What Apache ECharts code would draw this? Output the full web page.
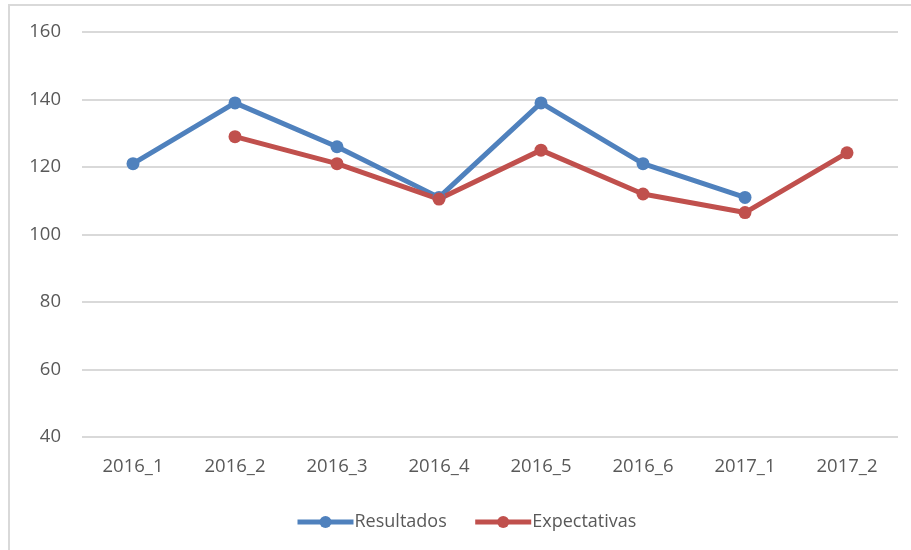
<!DOCTYPE html>
<html>
<head>
<meta charset="utf-8">
<script src="https://cdn.jsdelivr.net/npm/echarts@6/dist/echarts.min.js"></script>
<style>
html,body{margin:0;padding:0;background:#fff;}
#chart{width:911px;height:550px;}
</style>
</head>
<body>
<div id="chart"></div>
<script>
const categories = ['2016_1','2016_2','2016_3','2016_4','2016_5','2016_6','2017_1','2017_2'];
const resultados = [121, 139, 126, 111, 139, 121, 111, null];
const expectativas = [null, 129, 121, 110.5, 125, 112, 106.5, 124.2];
const yTicks = {min: 40, max: 160, interval: 20};

const FONT = 'Open Sans';
const chart = echarts.init(document.getElementById('chart'));
chart.setOption({
  animation: false,
  backgroundColor: '#fff',
  textStyle: {fontFamily: FONT},
  graphic: [
    {type: 'line', shape: {x1: 8, y1: 5, x2: 911, y2: 5}, style: {stroke: '#d9d9d9', lineWidth: 2}},
    {type: 'line', shape: {x1: 9, y1: 4, x2: 9, y2: 550}, style: {stroke: '#d9d9d9', lineWidth: 2}}
  ],
  grid: {left: 82, right: 13, top: 32, bottom: 113},
  legend: {
    left: 290, top: 508,
    itemWidth: 56, itemHeight: 15, itemGap: 26,
    lineStyle: {width: 5},
    textStyle: {fontFamily: FONT, fontSize: 18, color: '#595959', padding: [0,0,0,-4]},
    data: ['Resultados', 'Expectativas']
  },
  xAxis: {
    type: 'category',
    data: categories,
    boundaryGap: true,
    axisLine: {show: false},
    axisTick: {show: false},
    axisLabel: {fontFamily: FONT, fontSize: 18.5, color: '#595959', margin: 20}
  },
  yAxis: {
    type: 'value',
    min: yTicks.min, max: yTicks.max, interval: yTicks.interval,
    axisLine: {show: false},
    axisTick: {show: false},
    axisLabel: {fontFamily: FONT, fontSize: 18.5, color: '#595959', margin: 21},
    splitLine: {lineStyle: {color: '#d9d9d9', width: 2}}
  },
  series: [
    {
      name: 'Resultados', type: 'line', data: resultados,
      symbol: 'circle', symbolSize: 13, connectNulls: false,
      lineStyle: {color: '#4f81bd', width: 5},
      itemStyle: {color: '#4f81bd'}
    },
    {
      name: 'Expectativas', type: 'line', data: expectativas,
      symbol: 'circle', symbolSize: 13, connectNulls: false,
      lineStyle: {color: '#c0504d', width: 5},
      itemStyle: {color: '#c0504d'}
    }
  ]
});
</script>
</body>
</html>
